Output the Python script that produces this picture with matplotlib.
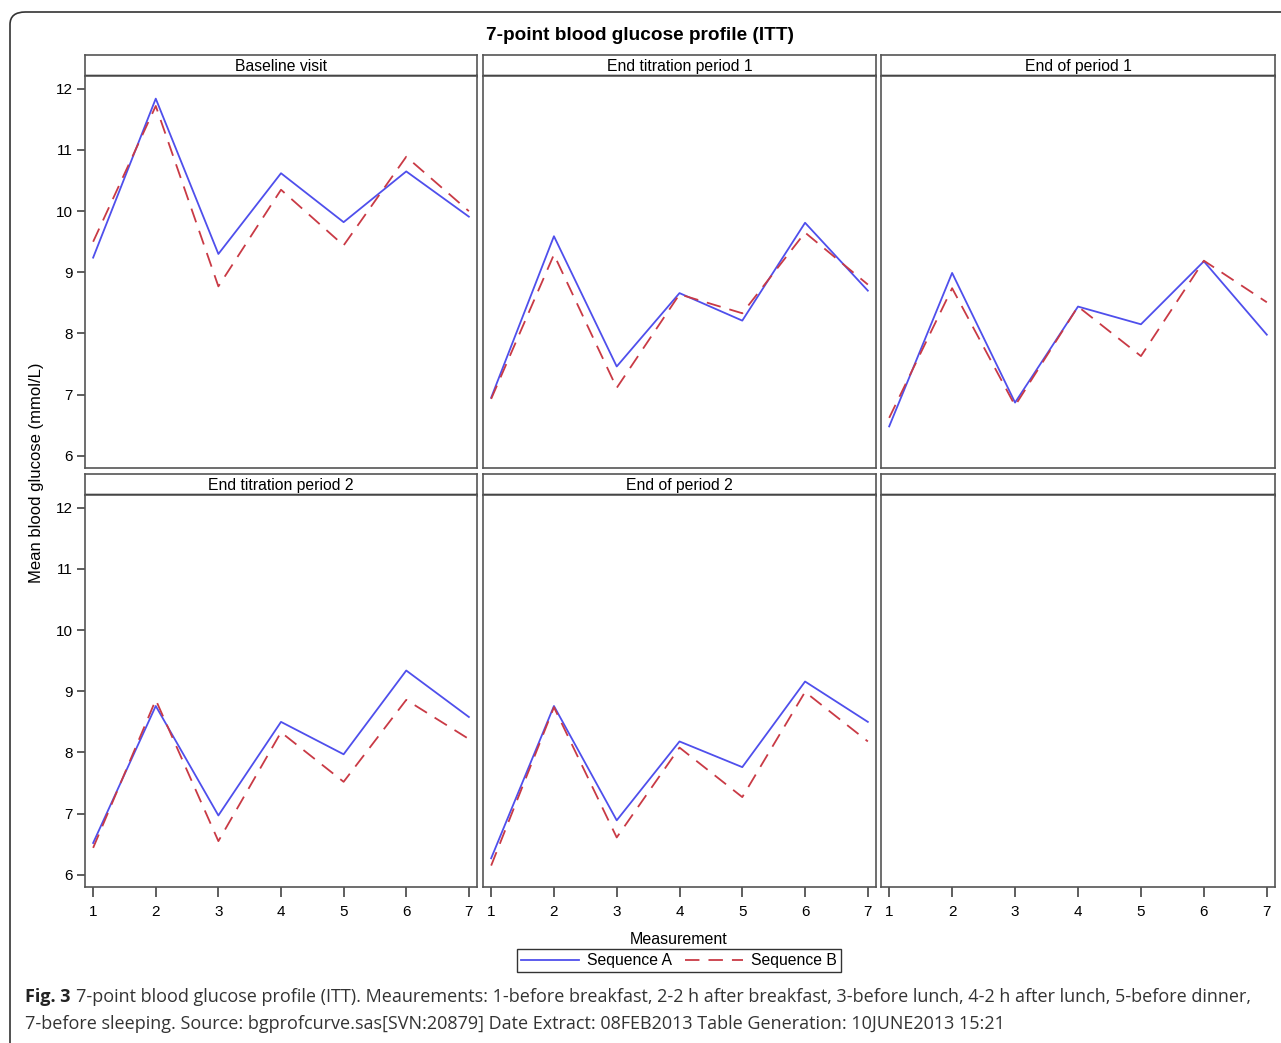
import matplotlib
matplotlib.use("Agg")
import matplotlib.pyplot as plt
from matplotlib.patches import FancyBboxPatch
from matplotlib.lines import Line2D

# ── Data ──────────────────────────────────────────────────────────────────
measurements = [1, 2, 3, 4, 5, 6, 7]
panel_titles = ["Baseline visit", "End titration period 1", "End of period 1",
                "End titration period 2", "End of period 2"]

seq_a = [
    [9.24, 11.84, 9.30, 10.62, 9.82, 10.65, 9.91],
    [6.95, 9.59, 7.46, 8.66, 8.21, 9.81, 8.70],
    [6.48, 8.99, 6.87, 8.44, 8.15, 9.18, 7.98],
    [6.52, 8.76, 6.97, 8.50, 7.97, 9.34, 8.58],
    [6.27, 8.76, 6.89, 8.18, 7.76, 9.16, 8.50],
]
seq_b = [
    [9.50, 11.72, 8.77, 10.35, 9.44, 10.89, 10.00],
    [6.93, 9.29, 7.11, 8.64, 8.33, 9.65, 8.80],
    [6.62, 8.74, 6.82, 8.44, 7.63, 9.19, 8.51],
    [6.44, 8.86, 6.55, 8.33, 7.52, 8.86, 8.22],
    [6.15, 8.74, 6.61, 8.08, 7.27, 8.99, 8.18],
]
y_ticks = [6, 7, 8, 9, 10, 11, 12]

# ── Style ─────────────────────────────────────────────────────────────────
W, H = 1281, 1043
COL_A = "#4f4fec"
COL_B = "#c93a45"
FRAME = "#555555"
SAS_FONT = ["Liberation Sans Narrow", "Liberation Sans", "DejaVu Sans"]
CAP_FONT = ["Open Sans", "DejaVu Sans"]

COLS_X = [(85, 477), (483, 876), (881, 1275)]
ROWS_Y = [(55, 76, 468), (474, 495, 887)]   # header top, plot top, plot bottom


def box(x0, y0, x1, y1):
    """pixel box (top-left origin) -> figure fraction rect"""
    return [x0 / W, 1 - y1 / H, (x1 - x0) / W, (y1 - y0) / H]


fig = plt.figure(figsize=(W / 100, H / 100), dpi=100)

# outer journal frame with rounded corner
fig.patches.append(FancyBboxPatch((10 / W, -0.05), 1.1, 1 - 12 / H + 0.05,
                                  boxstyle="round,pad=0,rounding_size=0.012",
                                  transform=fig.transFigure, fill=False,
                                  edgecolor="#333333", linewidth=1.2,
                                  clip_on=False))

fig.text(0.5, 1 - 36 / H, "7-point blood glucose profile (ITT)",
         ha="center", va="center", fontsize=13.7, fontweight="bold",
         family=SAS_FONT)

for k in range(6):
    r, c = divmod(k, 3)
    hx0, hx1 = COLS_X[c]
    ht, pt, pb = ROWS_Y[r]

    # header cell
    hax = fig.add_axes(box(hx0, ht, hx1, pt))
    hax.set_xticks([])
    hax.set_yticks([])
    for s in hax.spines.values():
        s.set_color(FRAME)
        s.set_linewidth(1.2)
    hax.spines["bottom"].set_color("black")
    hax.spines["bottom"].set_linewidth(2.5)
    hax.spines["bottom"].set_capstyle("butt")
    if k < len(panel_titles):
        hax.text(0.5, 0.45, panel_titles[k], ha="center", va="center",
                 fontsize=11.3, family=SAS_FONT, transform=hax.transAxes)

    ax = fig.add_axes(box(hx0, pt, hx1, pb))
    for s in ax.spines.values():
        s.set_color(FRAME)
        s.set_linewidth(1.2)
    ax.set_xlim(0.87, 7.13)
    ax.set_ylim(5.80, 12.21)

    if k < len(seq_a):
        ax.plot(measurements, seq_a[k], color=COL_A, lw=1.3)
        ax.plot(measurements, seq_b[k], color=COL_B, lw=1.3,
                dashes=(8, 5))

    ax.set_yticks(y_ticks if c == 0 else [])
    ax.set_xticks(measurements if r == 1 else [])
    ax.tick_params(axis="both", direction="out", length=6, width=1.1,
                   color="#333333", labelsize=11, pad=3)
    ax.tick_params(axis="x", length=7, pad=6)
    for lab in ax.get_xticklabels() + ax.get_yticklabels():
        lab.set_family(SAS_FONT)

fig.text(37 / W, 1 - 473 / H, "Mean blood glucose (mmol/L)", rotation=90,
         ha="center", va="center", fontsize=12, family=SAS_FONT)
fig.text(679 / W, 1 - 939 / H, "Measurement", ha="center", va="center",
         fontsize=11.5, family=SAS_FONT)

handles = [Line2D([], [], color=COL_A, lw=1.3),
           Line2D([], [], color=COL_B, lw=1.3, dashes=(8, 5))]
leg = fig.legend(handles, ["Sequence A", "Sequence B"], ncol=2,
                 loc="center", bbox_to_anchor=(679 / W, 1 - 960.5 / H),
                 frameon=True, fancybox=False, handlelength=3.7,
                 columnspacing=0.8, handletextpad=0.5, borderpad=0.25,
                 prop=dict(family=SAS_FONT, size=11.3))
leg.get_frame().set_edgecolor("black")
leg.get_frame().set_linewidth(1.0)

# caption
renderer = fig.canvas.get_renderer()
t0 = fig.text(25 / W, 1 - 997 / H, "Fig. 3", ha="left", va="center",
              fontsize=13, fontweight="bold", family=CAP_FONT, color="#222222")
bb = t0.get_window_extent(renderer)
fig.text(bb.x1 / W + 5 / W, 1 - 997 / H,
         "7-point blood glucose profile (ITT). Meaurements: 1-before breakfast, "
         "2-2 h after breakfast, 3-before lunch, 4-2 h after lunch, 5-before dinner,",
         ha="left", va="center", fontsize=13, family=CAP_FONT, color="#333333")
fig.text(25 / W, 1 - 1024 / H,
         "7-before sleeping. Source: bgprofcurve.sas[SVN:20879] Date Extract: "
         "08FEB2013 Table Generation: 10JUNE2013 15:21",
         ha="left", va="center", fontsize=13, family=CAP_FONT, color="#333333")

fig.savefig("out.png", dpi=100)
